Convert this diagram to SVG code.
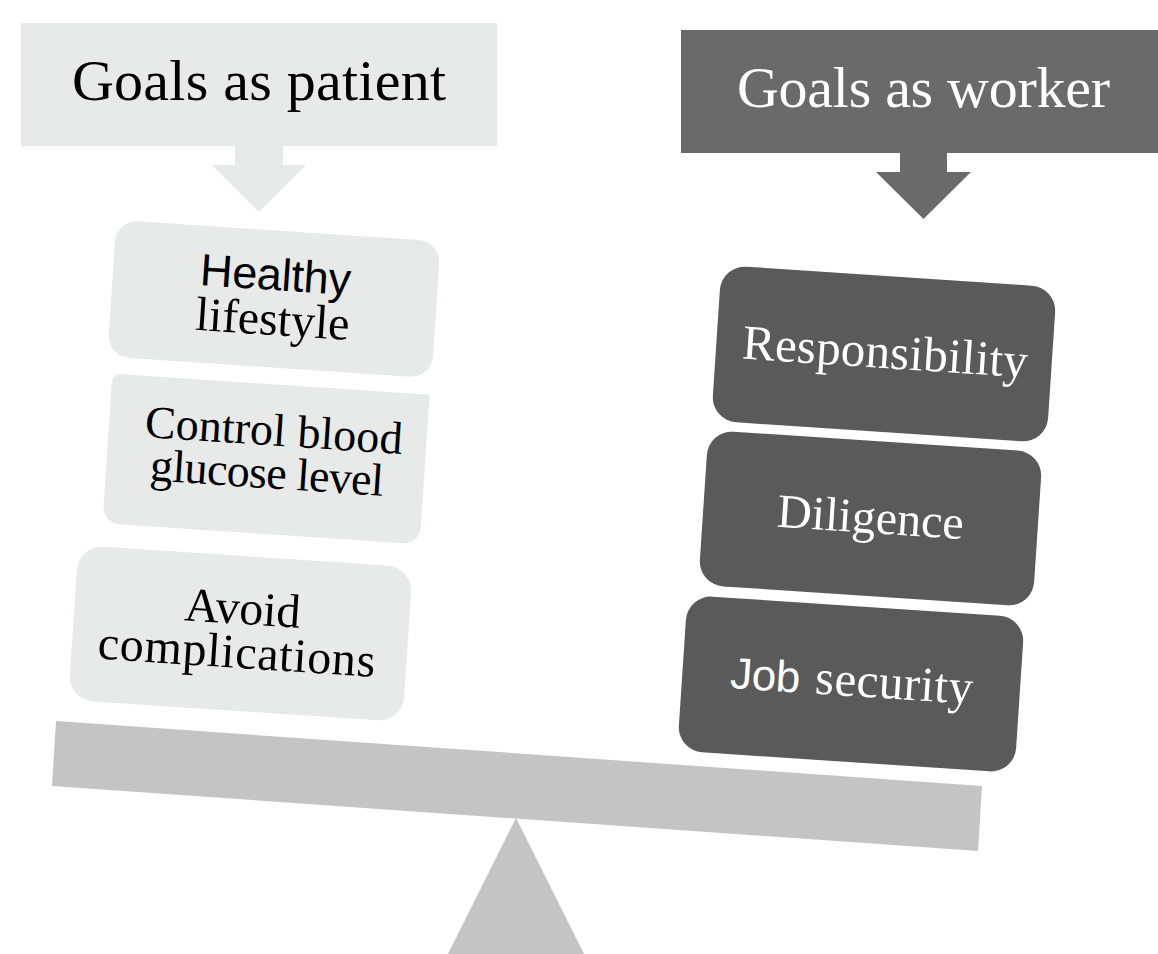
<svg xmlns="http://www.w3.org/2000/svg" width="1158" height="954" viewBox="0 0 1158 954">
<style>
.serif{font-family:"Liberation Serif","Times New Roman",serif;}
.sans{font-family:"Liberation Sans",Arial,sans-serif;}
.light{fill:#e8e9e9;}
.dark{fill:#5a5a5a;}
.hdark{fill:#6a6a6a;}
.blk{fill:#000000;}
.wht{fill:#ffffff;}
.scale{fill:#c4c4c4;}
</style>
<rect width="1158" height="954" fill="#ffffff"/>

<g id="fulcrum"><polygon class="scale" points="516,818 446,958 586,958"/></g>
<g id="beam"><polygon class="scale" points="56,721 982,786 978,851 52,786"/></g>

<g id="connectors">
  <polygon class="light" points="235,145 283,145 283,165 306,165 259,212 212,165 235,165"/>
  <polygon class="hdark" points="900,152 947,152 947,172 971,172 923.5,219 876,172 900,172"/>
</g>

<g id="header-patient">
  <rect class="light" x="21" y="23" width="476" height="123"/>
  <text class="serif blk" x="259" y="100" font-size="58" text-anchor="middle" textLength="374">Goals as patient</text>
</g>

<g id="header-worker">
  <rect class="hdark" x="681" y="30" width="477" height="123"/>
  <text class="serif wht" x="923.5" y="107" font-size="58" text-anchor="middle" textLength="373">Goals as worker</text>
</g>

<g id="node-healthy" transform="rotate(3.8 274 299)">
  <rect class="light" x="111.5" y="230.5" width="325" height="137" rx="22"/>
  <text class="sans blk" x="274" y="290" font-size="45" text-anchor="middle" textLength="151">Healthy</text>
  <text class="serif blk" x="274" y="335" font-size="48" text-anchor="middle" textLength="154">lifestyle</text>
</g>

<g id="node-glucose" transform="rotate(3.8 266 459)">
  <path class="light" d="M117,384 L425,384 L425,514 Q425,534 405,534 L127,534 Q107,534 107,514 L107,394 Q107,384 117,384 Z"/>
  <text class="serif blk" x="272" y="445" font-size="46" text-anchor="middle" textLength="258">Control blood</text>
  <text class="serif blk" x="268" y="488" font-size="46" text-anchor="middle" textLength="234">glucose level</text>
</g>

<g id="node-complications" transform="rotate(3.8 240.5 633.5)">
  <rect class="light" x="73" y="556" width="335" height="155" rx="25"/>
  <text class="serif blk" x="241" y="624" font-size="48" text-anchor="middle" textLength="116">Avoid</text>
  <text class="serif blk" x="238" y="668" font-size="48" text-anchor="middle" textLength="278">complications</text>
</g>

<g id="node-responsibility" transform="rotate(3.8 884 354)">
  <rect class="dark" x="716" y="276" width="336" height="156" rx="25"/>
  <text class="serif wht" x="885" y="368" font-size="49" text-anchor="middle" textLength="286">Responsibility</text>
</g>

<g id="node-diligence" transform="rotate(3.8 870.5 518.5)">
  <rect class="dark" x="703" y="441" width="335" height="155" rx="25"/>
  <text class="serif wht" x="870.5" y="533" font-size="48" text-anchor="middle" textLength="187">Diligence</text>
</g>

<g id="node-job" transform="rotate(3.8 851 684)">
  <rect class="dark" x="682" y="606" width="338" height="156" rx="25"/>
  <text class="sans wht" x="730" y="696" font-size="44" textLength="70">Job</text>
  <text class="serif wht" x="815" y="696" font-size="49" textLength="158">security</text>
</g>
</svg>
